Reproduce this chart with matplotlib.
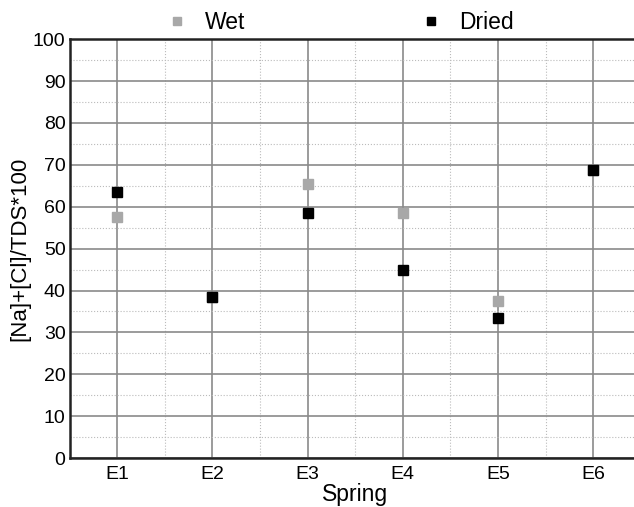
import numpy as np
import matplotlib.pyplot as plt
from matplotlib.ticker import MultipleLocator

# Data
springs = ["E1", "E2", "E3", "E4", "E5", "E6"]
wet = [57.5, 38.5, 65.5, 58.5, 37.5, 68.8]
dried = [63.5, 38.5, 58.5, 45.0, 33.5, 68.8]

plt.rcParams["font.family"] = ["Liberation Sans", "DejaVu Sans"]

fig = plt.figure(figsize=(6.34, 5.07), dpi=100)
ax = fig.add_axes([0.110, 0.0966, 0.9006, 0.826])

x = np.arange(1, len(springs) + 1)
ax.plot(x, wet, ls="none", marker="s", ms=7.5, color="#a8a8a8",
        mec="#a8a8a8", label="Wet", zorder=3)
ax.plot(x, dried, ls="none", marker="s", ms=7.5, color="black",
        mec="black", label="Dried", zorder=4)

ax.set_xlim(0.5, 6.5)
ax.set_ylim(0, 100)
ax.set_xticks(x)
ax.set_xticklabels(springs)
ax.set_xticks(np.arange(0.5, 7, 1), minor=True)
ax.yaxis.set_major_locator(MultipleLocator(10))
ax.yaxis.set_minor_locator(MultipleLocator(5))

ax.grid(which="major", color="#8a8a8a", lw=1.2, ls="-")
ax.grid(which="minor", color="#bbbbbb", lw=0.8, ls=":")
ax.set_axisbelow(True)

ax.tick_params(which="both", length=0, labelsize=14, pad=3)
ax.tick_params(axis="x", pad=6)

for side in ["left", "bottom", "top"]:
    ax.spines[side].set_linewidth(1.8)
    ax.spines[side].set_color("#222222")
ax.spines["right"].set_visible(False)

ax.set_xlabel("Spring", fontsize=16.5, labelpad=0)
ax.set_ylabel("[Na]+[Cl]/TDS*100", fontsize=16, labelpad=2)

fig.legend(loc="center", bbox_to_anchor=(0.536, 0.955), ncol=2,
           frameon=False, fontsize=16.5, columnspacing=7.6,
           handlelength=1.0, handletextpad=0.72, markerscale=0.8)

fig.savefig("out.png", dpi=100)
